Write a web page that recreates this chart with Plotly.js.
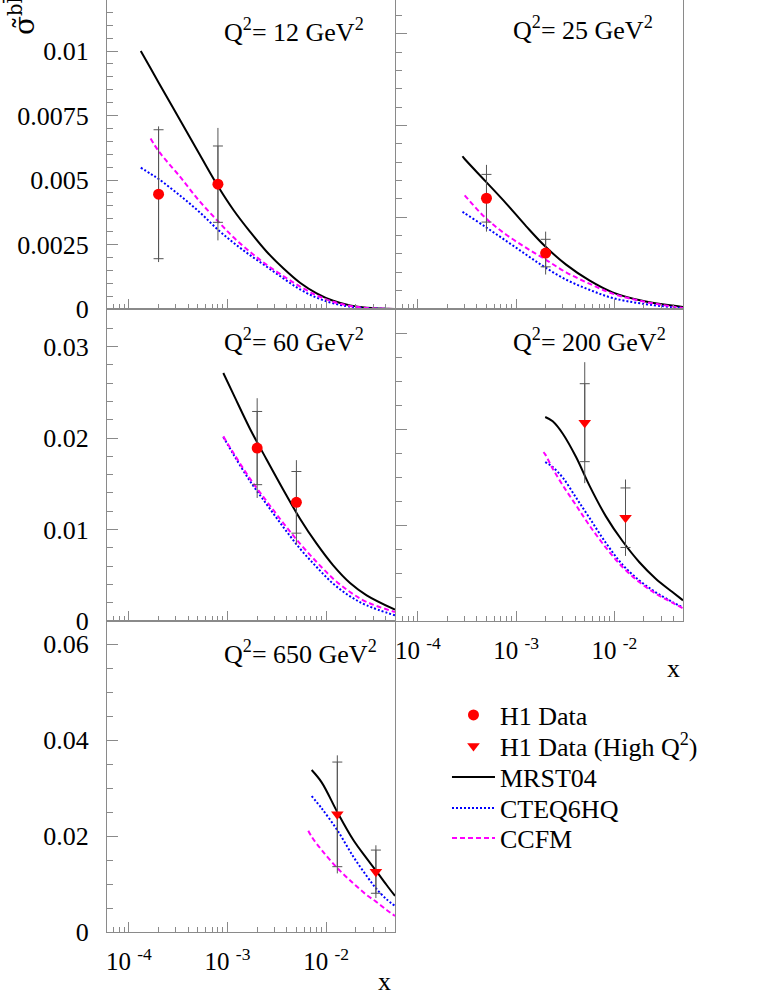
<!DOCTYPE html>
<html>
<head>
<meta charset="utf-8">
<script src="https://cdn.plot.ly/plotly-3.0.1.min.js"></script>
<style>
  body { margin: 0; background: white; }
  #myPlot { width: 776px; height: 1004px; }
</style>
</head>
<body>
<div id="myPlot"></div>
<script>
// Q2 = 12 GeV2
const x12 = [1.32e-4, 1.66e-4, 2.02e-4, 3.3e-4, 5.26e-4, 8.07e-4, 1.15e-3, 1.69e-3, 2.5e-3, 3.68e-3, 5.44e-3, 8.02e-3, 0.0118, 0.0175, 0.0258, 0.05];
const mrst12 = [0.0100, 0.00933, 0.00875, 0.00733, 0.00597, 0.00474, 0.00384, 0.00300, 0.00222, 0.00158, 0.00102, 0.00061, 0.00032, 0.00014, 0.00005, 0];
const cteq12 = [0.00548, 0.00524, 0.00503, 0.00440, 0.00374, 0.00306, 0.00257, 0.00209, 0.00164, 0.00119, 0.00076, 0.00044, 0.00022, 0.00009, 0.00003, 0];
const ccfm12 = [null, 0.00661, 0.00610, 0.00513, 0.00416, 0.00339, 0.00278, 0.00222, 0.00171, 0.00128, 0.00087, 0.00053, 0.00028, 0.00012, 0.00004, 0];
const h1x12 = [2e-4, 8e-4];
const h1y12 = [0.00445, 0.00484];
const h1stat12 = [0.0025, 0.00148];
const h1tot12 = [0.00263, 0.00218];

// Q2 = 25 GeV2
const x25 = [2.85e-4, 3.0e-4, 4.9e-4, 7.95e-4, 1.27e-3, 1.95e-3, 3.23e-3, 5.57e-3, 9.6e-3, 0.0193, 0.05];
const mrst25 = [0.00833, 0.00818, 0.00696, 0.00575, 0.00451, 0.00345, 0.00242, 0.00156, 0.00091, 0.00045, 0.00011];
const cteq25 = [0.00529, 0.00522, 0.00447, 0.00371, 0.00296, 0.00229, 0.0016, 0.00105, 0.0006, 0.00029, 0.00004];
const ccfm25 = [null, 0.0062, 0.00496, 0.00405, 0.00333, 0.00273, 0.002, 0.00138, 0.00084, 0.00042, 0.00005];
const h1x25 = [5e-4, 2e-3];
const h1y25 = [0.00604, 0.00305];
const h1stat25 = [0.0013, 0.00075];
const h1tot25 = [0.00182, 0.00117];

// Q2 = 60 GeV2
const x60 = [9.07e-4, 1.15e-3, 1.69e-3, 2.5e-3, 3.68e-3, 5.44e-3, 8.02e-3, 0.0118, 0.0175, 0.0258, 0.05];
const mrst60 = [0.0271, 0.02477, 0.02102, 0.01763, 0.01435, 0.01118, 0.00845, 0.00608, 0.00415, 0.00281, 0.00124];
const cteq60 = [0.02011, 0.01821, 0.0153, 0.01275, 0.01027, 0.00791, 0.0059, 0.00408, 0.0027, 0.00171, 0.00062];
const ccfm60 = [0.02018, 0.01836, 0.01556, 0.01308, 0.01071, 0.00845, 0.00645, 0.00463, 0.00317, 0.00208, 0.00098];
const h1x60 = [2e-3, 5e-3];
const h1y60 = [0.0189, 0.01297];
const h1stat60 = [0.0040, 0.00337];
const h1tot60 = [0.00545, 0.00461];

// Q2 = 200 GeV2 (high Q2 data)
const x200 = [1.9e-3, 1.98e-3, 2.36e-3, 2.99e-3, 4.08e-3, 5.57e-3, 8.21e-3, 0.0121, 0.0179, 0.0264, 0.039, 0.05];
const mrst200 = [null, 0.02125, 0.0208, 0.01951, 0.01708, 0.01413, 0.0109, 0.00833, 0.00615, 0.00441, 0.00302, 0.00215];
const cteq200 = [null, 0.01656, 0.01604, 0.01493, 0.01285, 0.01076, 0.00813, 0.00587, 0.00424, 0.00299, 0.00198, 0.00139];
const ccfm200 = [0.0176, 0.01736, 0.01587, 0.01413, 0.01205, 0.00997, 0.00764, 0.00563, 0.00406, 0.00285, 0.00191, 0.00132];
const h1x200 = [5e-3, 0.013];
const h1y200 = [0.02066, 0.01076];
const h1stat200 = [0.00406, 0.0031];
const h1tot200 = [0.0063, 0.00398];

// Q2 = 650 GeV2 (high Q2 data)
const x650 = [6.6e-3, 7.14e-3, 9.02e-3, 0.0131, 0.0189, 0.0258, 0.0321, 0.0411, 0.05];
const mrst650 = [null, 0.03375, 0.03118, 0.02486, 0.01917, 0.01535, 0.01278, 0.00979, 0.0075];
const cteq650 = [null, 0.02833, 0.02576, 0.02111, 0.01569, 0.01167, 0.0091, 0.00681, 0.00542];
const ccfm650 = [0.02111, 0.01986, 0.01708, 0.01326, 0.01014, 0.00771, 0.00632, 0.00458, 0.00333];
const h1x650 = [0.013, 0.032];
const h1y650 = [0.02451, 0.01257];
const h1stat650 = [0.0109, 0.0045];
const h1tot650 = [0.0123, 0.0055];

// tick labels
const xMajor = [1e-4, 1e-3, 1e-2];
const xMajorText = ["10\u00A0<sup>-4</sup>", "10\u00A0<sup>-3</sup>", "10\u00A0<sup>-2</sup>"];
const xMinor = [7e-5, 8e-5, 9e-5, 2e-4, 3e-4, 4e-4, 5e-4, 6e-4, 7e-4, 8e-4, 9e-4,
                2e-3, 3e-3, 4e-3, 5e-3, 6e-3, 7e-3, 8e-3, 9e-3, 2e-2, 3e-2, 4e-2];
const qLabels = ["12", "25", "60", "200", "650"];

const serif = "Liberation Serif, Times New Roman, serif";

const panels = [
  {x: x12, m: mrst12, c: cteq12, f: ccfm12, dx: h1x12, dy: h1y12, st: h1stat12, tot: h1tot12, high: false,
   yMax: 0.01198, yTicks: [0, 0.0025, 0.005, 0.0075, 0.01], yText: ["0", "0.0025", "0.005", "0.0075", "0.01"], yMinor: 0.0005,
   xd: [0.13789, 0.50902], yd: [0.69223, 1], left: true, xLabels: false, top: true, qy: 0.90},
  {x: x25, m: mrst25, c: cteq25, f: ccfm25, dx: h1x25, dy: h1y25, st: h1stat25, tot: h1tot25, high: false,
   yMax: 0.01685, yTicks: [0, 0.005, 0.01, 0.015], yText: null, yMinor: 0.001,
   xd: [0.51031, 0.88015], yd: [0.69223, 1], left: false, xLabels: false, top: true, qy: 0.907},
  {x: x60, m: mrst60, c: cteq60, f: ccfm60, dx: h1x60, dy: h1y60, st: h1stat60, tot: h1tot60, high: false,
   yMax: 0.0341, yTicks: [0, 0.01, 0.02, 0.03], yText: ["0", "0.01", "0.02", "0.03"], yMinor: 0.002,
   xd: [0.13789, 0.50902], yd: [0.38147, 0.69223], left: true, xLabels: false, top: false, qy: 0.90},
  {x: x200, m: mrst200, c: cteq200, f: ccfm200, dx: h1x200, dy: h1y200, st: h1stat200, tot: h1tot200, high: true,
   yMax: 0.0325, yTicks: [0, 0.01, 0.02, 0.03], yText: null, yMinor: 0.0025,
   xd: [0.51031, 0.88015], yd: [0.38147, 0.69223], left: false, xLabels: true, top: false, qy: 0.898},
  {x: x650, m: mrst650, c: cteq650, f: ccfm650, dx: h1x650, dy: h1y650, st: h1stat650, tot: h1tot650, high: true,
   yMax: 0.0648, yTicks: [0, 0.02, 0.04, 0.06], yText: ["0", "0.02", "0.04", "0.06"], yMinor: 0.005,
   xd: [0.13789, 0.50902], yd: [0.07171, 0.38147], left: true, xLabels: true, top: false, qy: 0.90}
];

const frameColor = "#8a8a8a";
const errColor = "#555555";
const data = [];
const layout = {
  width: 776, height: 1004,
  margin: {l: 0, r: 0, t: 0, b: 0},
  paper_bgcolor: "white", plot_bgcolor: "white",
  font: {family: serif, size: 26, color: "black"},
  showlegend: true,
  annotations: []
};

// one small legend box per entry so the rows can sit as close as in the original
const legendRowsY = [715, 746, 777, 808, 838];
legendRowsY.forEach(function (yc, k) {
  layout[k === 0 ? "legend" : "legend" + (k + 1)] = {
    x: 0.576, y: 1 - yc / 1004, xanchor: "left", yanchor: "middle",
    font: {family: serif, size: 26, color: "black"}, itemwidth: 43,
    bgcolor: "rgba(0,0,0,0)"
  };
});
function legendId(k) { return k === 0 ? "legend" : "legend" + (k + 1); }

let firstLow = true, firstHigh = true;
panels.forEach(function (p, i) {
  const n = i === 0 ? "" : String(i + 1);
  const xa = "x" + n, ya = "y" + n;

  layout["xaxis" + n] = {
    type: "log", domain: p.xd, anchor: ya,
    range: [Math.log10(6e-5), Math.log10(0.05)],
    tickmode: "array", tickvals: xMajor, ticktext: xMajorText,
    showticklabels: p.xLabels, tickfont: {family: serif, size: 25, color: "black"}, ticklabelstandoff: 7,
    ticks: "inside", ticklen: 10, tickcolor: frameColor,
    minor: {tickmode: "array", tickvals: xMinor, ticks: "inside", ticklen: 5, tickcolor: frameColor},
    showline: true, linecolor: frameColor, linewidth: 1, mirror: !p.top,
    showgrid: false, zeroline: false, fixedrange: true
  };
  layout["yaxis" + n] = {
    domain: p.yd, anchor: xa, range: [0, p.yMax],
    tickmode: "array", tickvals: p.yTicks, ticktext: p.yText || p.yTicks.map(String),
    showticklabels: p.left, tickfont: {family: serif, size: 26, color: "black"}, ticklabelstandoff: 12,
    ticks: "inside", ticklen: 11, tickcolor: frameColor,
    minor: {tickmode: "linear", tick0: 0, dtick: p.yMinor, ticks: "inside", ticklen: 6, tickcolor: frameColor},
    showline: true, linecolor: frameColor, linewidth: 1, mirror: true,
    showgrid: false, zeroline: false, fixedrange: true
  };

  // theory curves
  data.push({x: p.x, y: p.m, xaxis: xa, yaxis: ya, mode: "lines", name: "MRST04",
    legend: legendId(2), showlegend: i === 0,
    line: {color: "black", width: 2, shape: "spline"}, hoverinfo: "skip"});
  data.push({x: p.x, y: p.c, xaxis: xa, yaxis: ya, mode: "lines", name: "CTEQ6HQ",
    legend: legendId(3), showlegend: i === 0,
    line: {color: "#0000ff", width: 2, dash: "2px,2px", shape: "spline"}, hoverinfo: "skip"});
  data.push({x: p.x, y: p.f, xaxis: xa, yaxis: ya, mode: "lines", name: "CCFM",
    legend: legendId(4), showlegend: i === 0,
    line: {color: "#ff00ff", width: 2, dash: "5px,3px", shape: "spline"}, hoverinfo: "skip"});

  // total errors (no caps)
  data.push({x: p.dx, y: p.dy, xaxis: xa, yaxis: ya, mode: "markers", showlegend: false,
    marker: {size: 1, color: "rgba(0,0,0,0)"},
    error_y: {type: "data", array: p.tot, color: errColor, thickness: 1, width: 0}, hoverinfo: "skip"});

  // data points with statistical errors
  const show = p.high ? firstHigh : firstLow;
  data.push({x: p.dx, y: p.dy, xaxis: xa, yaxis: ya, mode: "markers",
    name: p.high ? "H1 Data (High Q<sup>2</sup>)" : "H1 Data",
    legend: legendId(p.high ? 1 : 0), showlegend: show,
    marker: {symbol: p.high ? "triangle-down" : "circle", size: 11, color: "#ff0000"},
    error_y: {type: "data", array: p.st, color: errColor, thickness: 1, width: 5}, hoverinfo: "skip"});
  if (p.high) firstHigh = false; else firstLow = false;

  layout.annotations.push({
    xref: xa + " domain", yref: ya + " domain", x: 0.40, y: p.qy,
    xanchor: "left", yanchor: "middle", showarrow: false,
    text: "Q<sup>2</sup>= " + qLabels[i] + " GeV<sup>2</sup>", font: {family: serif, size: 26, color: "black"}
  });
});

// axis titles
layout.annotations.push({xref: "paper", yref: "paper", x: 393 / 776, y: 1 - 981 / 1004,
  xanchor: "right", yanchor: "middle", showarrow: false, text: "x", font: {family: serif, size: 26, color: "black"}});
layout.annotations.push({xref: "paper", yref: "paper", x: 682 / 776, y: 1 - 668 / 1004,
  xanchor: "right", yanchor: "middle", showarrow: false, text: "x", font: {family: serif, size: 26, color: "black"}});
layout.annotations.push({xref: "paper", yref: "paper", x: 22 / 776, y: 1 - 13 / 1004,
  xanchor: "center", yanchor: "middle", showarrow: false, textangle: -90,
  text: "\u03C3\u0303<sup>bb\u0304</sup>", font: {family: "DejaVu Serif", size: 28, color: "black"}});

Plotly.newPlot("myPlot", data, layout, {displayModeBar: false, staticPlot: true});
</script>
</body>
</html>
